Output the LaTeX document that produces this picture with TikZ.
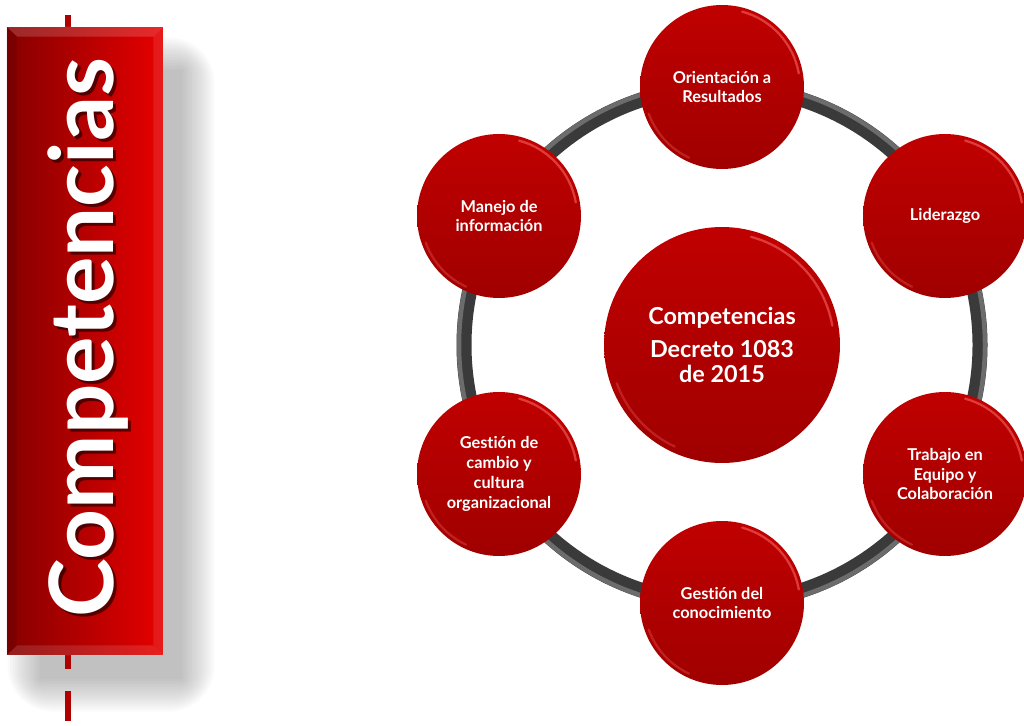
\documentclass[tikz,border=0pt]{standalone}
\usepackage{fontspec}
\setmainfont{Lato}[Ligatures=NoCommon]

\definecolor{rojoA}{HTML}{C00000}
\definecolor{rojoB}{HTML}{A00000}
\definecolor{rojoC}{HTML}{FF6A6A}
\definecolor{rojoOsc}{HTML}{860000}
\definecolor{rojoVivo}{HTML}{E60000}
\definecolor{rojoLinea}{HTML}{B00000}
\definecolor{gris}{HTML}{3A3A3A}
\definecolor{grisC}{HTML}{6C6C6C}

\tikzset{
	bola/.style={circle, top color=rojoA, bottom color=rojoB, text=white, align=center,
		inner sep=0pt, minimum size=3.28cm, font=\bfseries\fontsize{9.3}{11.3}\selectfont},
	brillo/.style={rojoC, line width=1.3pt, opacity=.55, line cap=round},
	barra/.style={rectangle, minimum width=3.12cm, minimum height=12.56cm,
		left color=rojoOsc, right color=rojoVivo},
	titulo/.style={rotate=90, inner sep=0pt, text=white, font=\bfseries\fontsize{50.5}{50}\selectfont},
}

\begin{document}
\begin{tikzpicture}[x=0.02cm, y=0.02cm]
				\useasboundingbox (0,0) rectangle (1024,725);
				% sombra de la barra
				\foreach \i in {0,...,13}
					\fill[black, opacity=0.019, rounded corners=2*\i pt] (40-\i*2.5, 46-\i*2.5) rectangle (182+\i*2.5, 655+\i*2.5);
				% linea punteada
				\coordinate (lt) at (68,710);
				\coordinate (lb) at (68,0);
				\draw[rojoLinea, line width=0.12cm, dash pattern=on 0.6cm off 0.44cm] (lt) -- (lb);
				% barra
				\node[barra] (B) at (85,384) {};
				\fill[white, opacity=.16] (B.north west) -- (B.north east) -- ++(-10,-10) -- ++(-136,0) -- cycle;
				\fill[white, opacity=.12] (B.south west) -- (B.south east) -- ++(-10,10) -- ++(-136,0) -- cycle;
				\fill[black, opacity=.10] (B.north west) -- ++(10,-10) -- ++(0,-608) -- (B.south west) -- cycle;
				\fill[white, opacity=.10] (B.north east) -- ++(-10,-10) -- ++(0,-608) -- (B.south east) -- cycle;
				\node[titulo, text=black, opacity=.55] (Ts) at (91,384) {Competencias};
				\node[titulo] (T) at (88,387) {Competencias};
				% anillo
				\coordinate (c0) at (722,380);
				\draw[gris, line width=0.3cm] (c0) circle[radius=258];
				\draw[grisC, line width=0.09cm] (c0) circle[radius=263];
				% circulos
				\node[bola] (O) at (722,638) {Orientación a\\Resultados};
				\node[bola] (L) at (945,509) {Liderazgo};
				\node[bola] (R) at (945,251) {Trabajo en\\Equipo y\\Colaboración};
				\node[bola] (G) at (722,122) {Gestión del\\conocimiento};
				\node[bola] (K) at (499,251) {Gestión de\\cambio y\\cultura\\organizacional};
				\node[bola] (M) at (499,509) {Manejo de\\información};
				\node[bola, minimum size=4.72cm, font=\bfseries\fontsize{13.3}{14.6}\selectfont] (C) at (c0) {Competencias\\[4pt]Decreto 1083\\de 2015};
				% brillos
				\foreach \n in {O,L,R,G,K,M} {
					\draw[brillo] ([shift={(10:1.56cm)}]\n.center) arc[start angle=10, end angle=75, radius=1.56cm];
					\draw[brillo, opacity=.3] ([shift={(200:1.56cm)}]\n.center) arc[start angle=200, end angle=245, radius=1.56cm];
				}
				\draw[brillo] ([shift={(10:2.24cm)}]C.center) arc[start angle=10, end angle=75, radius=2.24cm];
				\draw[brillo, opacity=.3] ([shift={(200:2.24cm)}]C.center) arc[start angle=200, end angle=245, radius=2.24cm];
			\end{tikzpicture}
\end{document}
